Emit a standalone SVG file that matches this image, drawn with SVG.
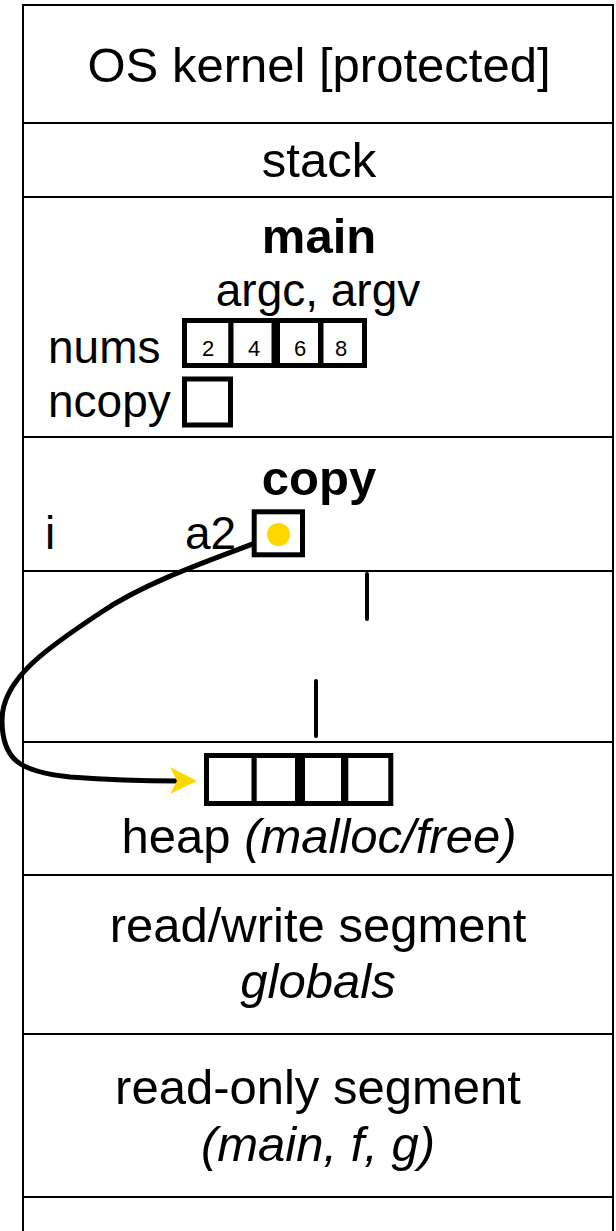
<svg xmlns="http://www.w3.org/2000/svg" width="616" height="1231" viewBox="0 0 616 1231">
<style>
.t{font-family:"Liberation Sans",Arial,Helvetica,sans-serif;fill:#000}
.big{font-size:49px}
.mid{font-size:46px}
.b{font-weight:bold}
.i{font-style:italic}
.c{text-anchor:middle}
.num{font-size:22px}
.sec{stroke:#000;stroke-width:2;fill:none}
.cell{stroke:#000;stroke-width:5;fill:#fff}
.tick{stroke:#000;stroke-width:4;stroke-linecap:round}
</style>
<rect x="0" y="0" width="616" height="1231" fill="#fff"/>
<g id="memory-frame">
<path class="sec" d="M23,1231 V5 H613 V1231"/>
</g>
<g id="os-kernel">
<line class="sec" x1="23" y1="123" x2="613" y2="123"/>
<text class="t big c" x="319" y="82">OS kernel [protected]</text>
</g>
<g id="stack">
<line class="sec" x1="23" y1="197" x2="613" y2="197"/>
<text class="t big c" x="319" y="177">stack</text>
</g>
<g id="main-frame">
<line class="sec" x1="23" y1="437" x2="613" y2="437"/>
<text class="t big b c" x="319" y="253">main</text>
<text class="t mid c" x="318" y="306">argc, argv</text>
<text class="t mid" x="48" y="363">nums</text>
<text class="t mid" x="48" y="417">ncopy</text>
</g>
<g id="nums">
<rect class="cell" x="184.5" y="320.5" width="46.5" height="45"/>
<rect class="cell" x="231" y="320.5" width="43" height="45"/>
<rect class="cell" x="277.5" y="320.5" width="43" height="45"/>
<rect class="cell" x="321" y="320.5" width="43.5" height="45"/>
<text class="t num c" x="208" y="356">2</text>
<text class="t num c" x="254" y="356">4</text>
<text class="t num c" x="300" y="356">6</text>
<text class="t num c" x="341" y="356">8</text>
</g>
<g id="ncopy">
<rect class="cell" x="184.5" y="379" width="46" height="46"/>
</g>
<g id="connectors">
<path d="M279,534 C223,556 150,579 100,613 C59,641 2,675 2,720 C2,760 20,772 70,777 C110,780 150,781 178,781" fill="none" stroke="#000" stroke-width="5"/>
<polygon points="197,781 170,767 177,781 170,794" fill="#FFD700"/>
</g>
<g id="copy-frame">
<line class="sec" x1="23" y1="571" x2="613" y2="571"/>
<text class="t big b c" x="319" y="495">copy</text>
<text class="t mid" x="45" y="549">i</text>
<text class="t mid" x="185" y="549">a2</text>
</g>
<g id="a2">
<rect class="cell" x="254.2" y="511.8" width="48.3" height="43"/>
<circle cx="278.5" cy="534.5" r="11.5" fill="#FFD700"/>
</g>
<g id="free-space">
<line class="tick" x1="367" y1="574" x2="367" y2="619"/>
<line class="tick" x1="316" y1="681" x2="316" y2="736"/>
</g>
<g id="heap">
<line class="sec" x1="23" y1="742" x2="613" y2="742"/>
<line class="sec" x1="23" y1="875" x2="613" y2="875"/>
<rect class="cell" x="206.5" y="755.5" width="47.7" height="48"/>
<rect class="cell" x="254.2" y="755.5" width="43.3" height="48"/>
<rect class="cell" x="302.5" y="755.5" width="41" height="48"/>
<rect class="cell" x="345.8" y="755.5" width="45" height="48"/>
<text class="t big c" x="319" y="853">heap <tspan class="i">(malloc/free)</tspan></text>
</g>
<g id="read-write-segment">
<line class="sec" x1="23" y1="1034" x2="613" y2="1034"/>
<text class="t big c" x="318" y="942">read/write segment</text>
<text class="t big i c" x="318" y="998">globals</text>
</g>
<g id="read-only-segment">
<line class="sec" x1="23" y1="1197" x2="613" y2="1197"/>
<text class="t big c" x="318" y="1104">read-only segment</text>
<text class="t big i c" x="318" y="1161">(main, f, g)</text>
</g>
</svg>
